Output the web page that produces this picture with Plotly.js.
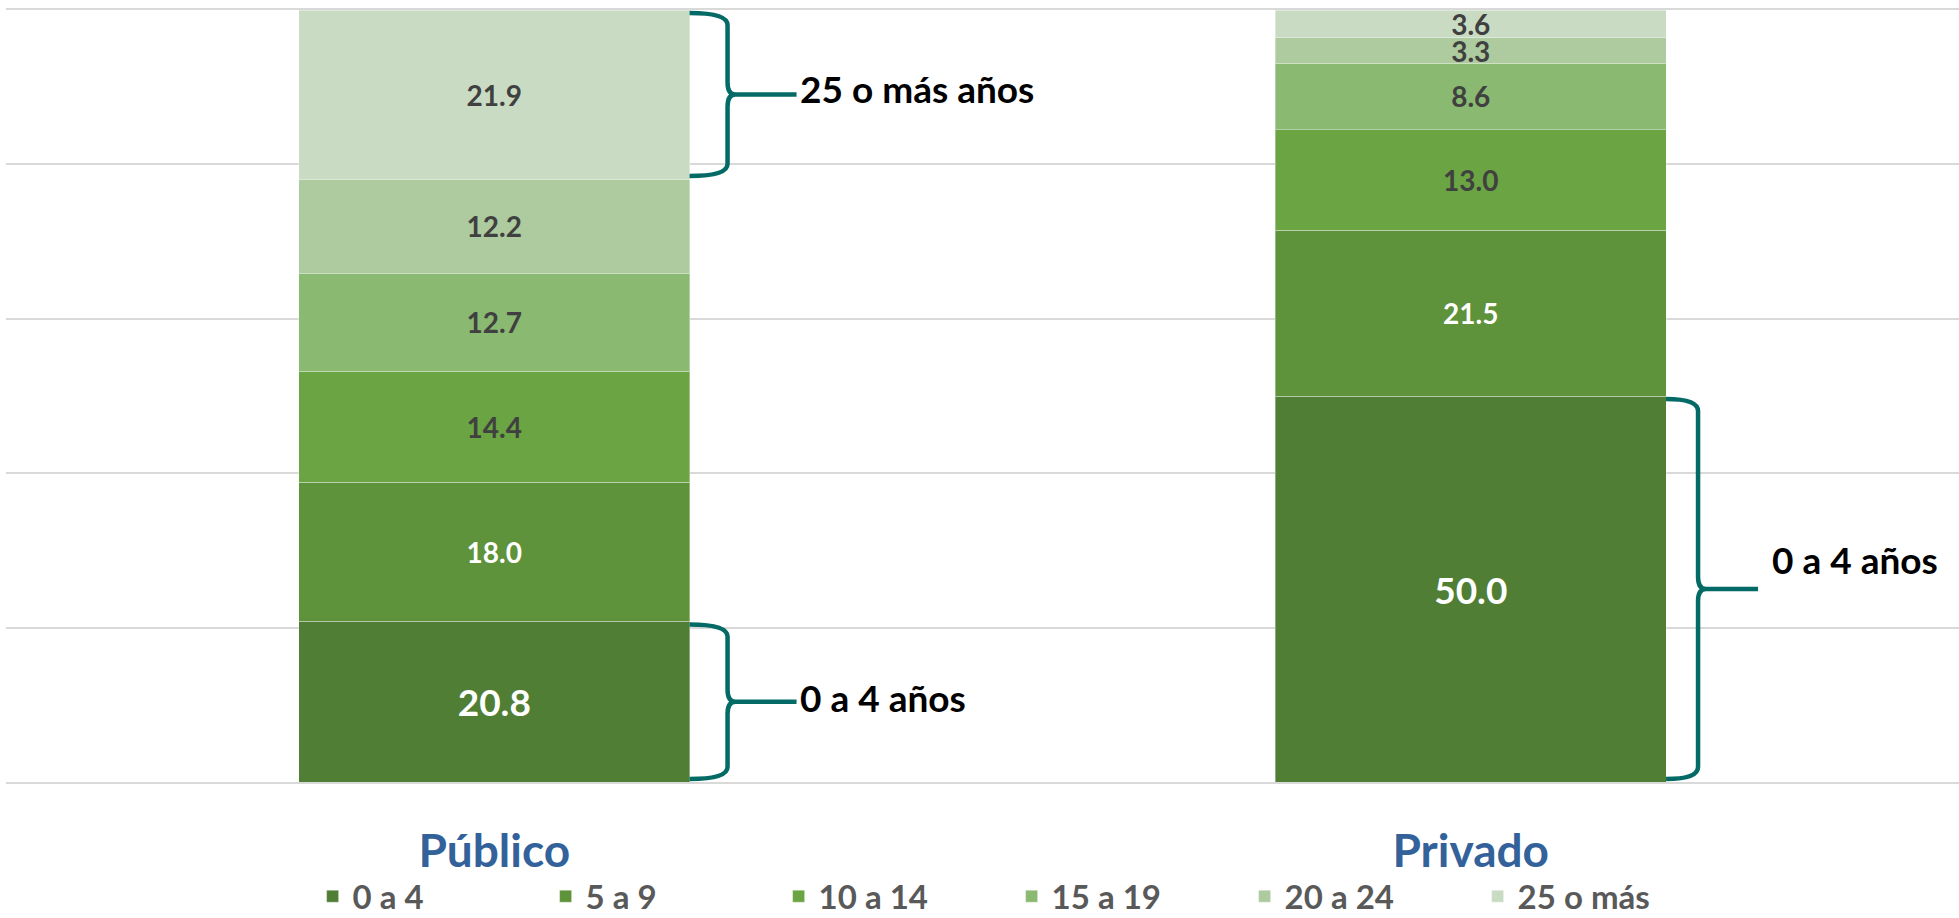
<!DOCTYPE html>
<html>
<head>
<meta charset="utf-8">
<script src="https://cdn.plot.ly/plotly-3.0.1.min.js"></script>
<style>html,body{margin:0;padding:0;background:#fff;}#chart{width:1959px;height:918px;}</style>
</head>
<body>
<div id="chart"></div>
<script>
const categories = ['Público', 'Privado'];
const groups = ['0 a 4', '5 a 9', '10 a 14', '15 a 19', '20 a 24', '25 o más'];
const publico = [20.8, 18.0, 14.4, 12.7, 12.2, 21.9];
const privado = [50.0, 21.5, 13.0, 8.6, 3.3, 3.6];
const bracketLabels = ['25 o más años', '0 a 4 años', '0 a 4 años'];

const colors = ['#507e34', '#5e923b', '#6aa443', '#8ab971', '#adcb9e', '#c9dcc3'];
const labelColors = ['#ffffff', '#ffffff', '#404040', '#404040', '#404040', '#404040'];
const labelSizes = [37, 28, 28, 28, 28, 28];

const FONT = 'Lato, "Open Sans", sans-serif';
const W = 1959, H = 918;
const M = {l: 6, r: 0, t: 10, b: 136, autoexpand: false};
const plotH = H - M.t - M.b;
const pxPerUnit = plotH / 100;
const barW = 0.4;
const teal = '#046a66';

const traces = groups.map((g, i) => {
  const vals = [publico[i], privado[i]];
  return {
    type: 'bar',
    name: g,
    x: categories,
    y: vals,
    width: barW,
    text: vals.map(v => v.toFixed(1)),
    textposition: 'inside',
    insidetextanchor: 'middle',
    textangle: 0,
    constraintext: 'none',
    textfont: {family: FONT, size: labelSizes[i], color: labelColors[i], weight: 'bold'},
    marker: {color: colors[i], line: {color: 'rgba(255,255,255,0.35)', width: 1}},
    hoverinfo: 'skip'
  };
});

function bounds(arr, idx) {
  let lo = 0;
  for (let k = 0; k < idx; k++) lo += arr[k];
  return [lo, lo + arr[idx]];
}

function edgePaper(catIdx) { return (catIdx + 0.5 + barW / 2) / 2; }

function bracketPath(lo, hi, vx, tipx, endx) {
  const r = 12 / pxPerUnit;
  const ins = 3 / pxPerUnit;
  const top = hi - ins, bot = lo + ins;
  const mid = (lo + hi) / 2;
  return `M0,${top} Q${vx},${top} ${vx},${top - r} L${vx},${mid + r} Q${vx},${mid} ${tipx},${mid} ` +
         `L${endx},${mid} M${tipx},${mid} Q${vx},${mid} ${vx},${mid - r} L${vx},${bot + r} Q${vx},${bot} 0,${bot}`;
}

const brackets = [
  {cat: 0, b: bounds(publico, 5), vx: 38, tipx: 46, endx: 107, tx: 108, ty: 6, label: bracketLabels[0]},
  {cat: 0, b: bounds(publico, 0), vx: 38, tipx: 46, endx: 107, tx: 108, ty: 4, label: bracketLabels[1]},
  {cat: 1, b: bounds(privado, 0), vx: 32, tipx: 40, endx: 92, tx: 104, ty: 30, label: bracketLabels[2]}
];

const shapes = brackets.map(br => ({
  type: 'path',
  xref: 'paper', yref: 'y',
  xsizemode: 'pixel', xanchor: edgePaper(br.cat),
  path: bracketPath(br.b[0], br.b[1], br.vx, br.tipx, br.endx),
  line: {color: teal, width: 4.5},
  fillcolor: 'rgba(0,0,0,0)',
  layer: 'above'
}));

const annotations = brackets.map(br => ({
  xref: 'paper', yref: 'y',
  x: edgePaper(br.cat), y: (br.b[0] + br.b[1]) / 2,
  xanchor: 'left', yanchor: 'middle',
  xshift: br.tx, yshift: br.ty,
  text: br.label, showarrow: false,
  font: {family: FONT, size: 37, color: '#000000', weight: 'bold'}
}));

const layout = {
  width: W, height: H,
  margin: M,
  barmode: 'stack',
  paper_bgcolor: '#ffffff', plot_bgcolor: '#ffffff',
  font: {family: FONT},
  xaxis: {
    type: 'category', range: [-0.5, 1.5], showgrid: false, zeroline: false,
    showline: true, mirror: true, linecolor: '#d9d9d9', linewidth: 2,
    ticks: '', ticklabelstandoff: 28, automargin: false,
    tickfont: {family: FONT, size: 46, color: '#33629b', weight: 'bold'}
  },
  yaxis: {
    range: [0, 100], dtick: 20, showticklabels: false, ticks: '', automargin: false,
    gridcolor: '#d9d9d9', gridwidth: 2, zeroline: false, showline: false
  },
  showlegend: true,
  legend: {
    orientation: 'h', traceorder: 'normal',
    x: 0.157, xanchor: 'left', y: -0.148, yanchor: 'middle',
    entrywidth: 188, entrywidthmode: 'pixels',
    font: {family: FONT, size: 33, color: '#595959', weight: 'bold'},
    bgcolor: 'rgba(0,0,0,0)'
  },
  shapes: shapes,
  annotations: annotations
};

Plotly.newPlot('chart', traces, layout, {displayModeBar: false, staticPlot: true});
</script>
</body>
</html>
